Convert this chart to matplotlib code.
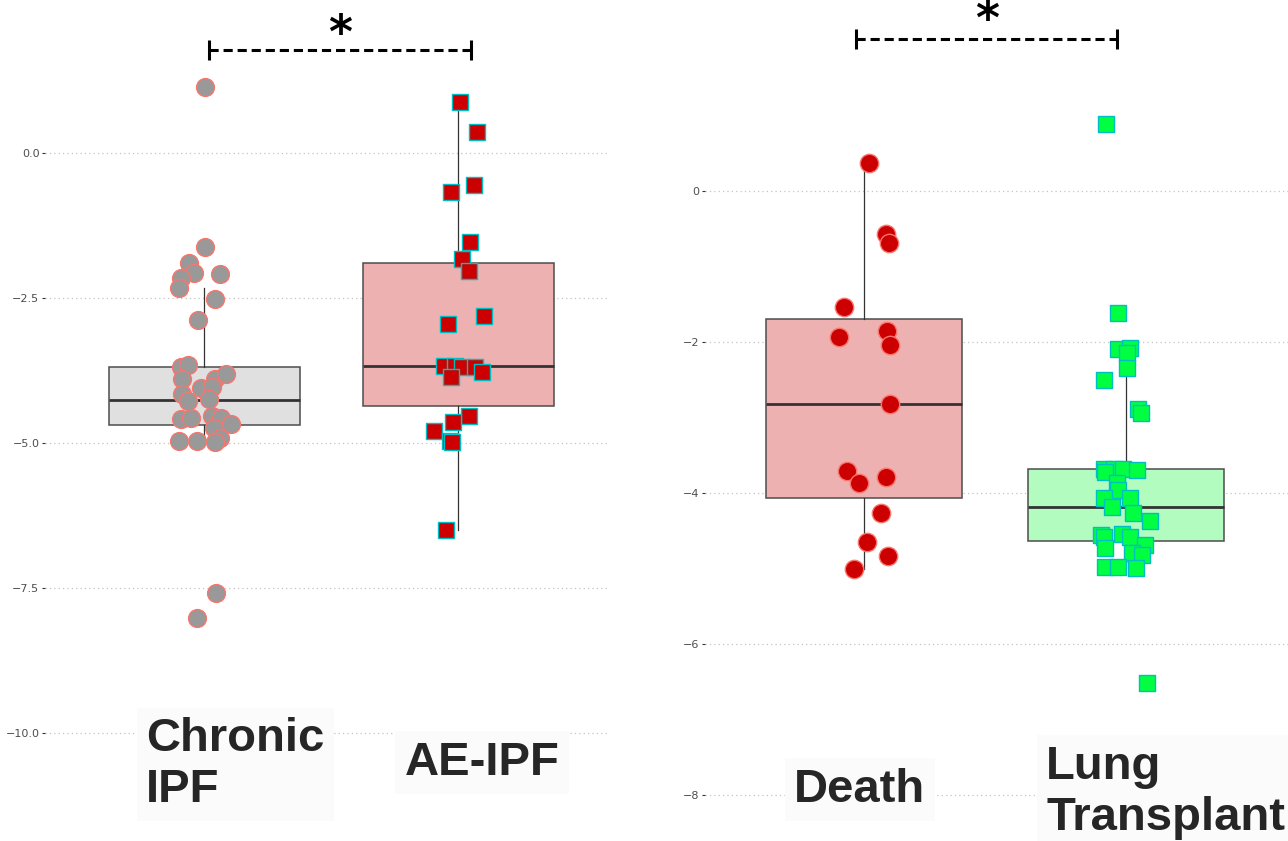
import matplotlib
matplotlib.use("Agg")
import matplotlib.pyplot as plt

# ---- data ----
# left panel: Chronic IPF vs AE-IPF
chronic_vals = [1.13, -1.62, -1.90, -2.07, -2.09, -2.15, -2.33, -2.51, -2.88,
                -3.69, -3.66, -3.90, -3.90, -3.81, -4.05, -4.03, -4.16, -4.28,
                -4.24, -4.59, -4.57, -4.53, -4.57, -4.67, -4.74, -4.92, -4.96,
                -4.96, -4.98, -7.58, -8.02]
chronic_jit = [0.004, 0.004, -0.059, -0.040, 0.063, -0.091, -0.099, 0.040, -0.024,
               -0.091, -0.063, -0.087, 0.040, 0.083, -0.012, 0.028, -0.087, -0.063,
               0.016, -0.091, -0.055, 0.028, 0.067, 0.103, 0.036, 0.063, -0.099,
               -0.028, 0.040, 0.047, -0.028]
ae_vals = [0.88, 0.37, -0.68, -0.56, -1.53, -1.83, -2.03, -2.94, -2.81, -3.67,
           -3.67, -3.69, -3.69, -3.78, -3.86, -4.53, -4.64, -4.79, -4.96, -4.98, -6.50]
ae_jit = [0.008, 0.075, -0.028, 0.063, 0.047, 0.016, 0.040, -0.043, 0.099, -0.055,
          -0.012, 0.016, 0.067, 0.091, -0.028, 0.043, -0.020, -0.095, -0.032, -0.024, -0.047]

# right panel: Death vs Lung Transplant
death_vals = [0.37, -0.57, -0.69, -1.53, -1.93, -1.85, -2.04, -2.82, -3.71, -3.87,
              -3.79, -4.27, -4.65, -4.83, -5.01]
death_jit = [0.019, 0.084, 0.095, -0.076, -0.095, 0.088, 0.099, 0.099, -0.065, -0.019,
             0.084, 0.065, 0.011, 0.092, -0.038]
lt_vals = [0.89, -1.62, -2.09, -2.08, -2.15, -2.35, -2.50, -2.89, -2.94, -3.68,
           -3.68, -3.68, -3.70, -3.72, -3.87, -3.96, -4.07, -4.07, -4.19, -4.26,
           -4.37, -4.56, -4.58, -4.54, -4.58, -4.69, -4.73, -4.79, -4.82, -4.98,
           -4.98, -4.99, -6.51]
lt_jit = [-0.076, -0.031, -0.031, 0.015, 0.004, 0.004, -0.084, 0.046, 0.057, -0.084,
          -0.046, -0.011, 0.042, -0.080, -0.034, -0.031, -0.084, 0.015, -0.053, 0.027,
          0.092, -0.095, -0.084, -0.015, 0.015, 0.073, -0.080, 0.023, 0.061, -0.080,
          -0.031, 0.038, 0.080]

# box summaries (q1, median, q3, lower whisker, upper whisker)
left_q1 = [-4.69, -4.36]
left_med = [-4.26, -3.67]
left_q3 = [-3.69, -1.90]
left_lo = [-4.98, -6.50]
left_hi = [-2.33, 0.88]
right_q1 = [-4.07, -4.64]
right_med = [-2.82, -4.19]
right_q3 = [-1.70, -3.68]
right_lo = [-5.01, -4.99]
right_hi = [0.37, -2.35]

left_labels = ["Chronic\nIPF", "AE-IPF"]
right_labels = ["Death", "Lung\nTransplant"]
left_ticks = [0.0, -2.5, -5.0, -7.5, -10.0]
right_ticks = [0, -2, -4, -6, -8]

W, H = 1288, 841
fig = plt.figure(figsize=(W / 100, H / 100), dpi=100)
fig.patch.set_facecolor("white")


def make_axes(x0, x1, xlim, ylim):
    ax = fig.add_axes([x0 / W, 0, (x1 - x0) / W, 1])
    ax.set_xlim(*xlim)
    ax.set_ylim(*ylim)
    for s in ax.spines.values():
        s.set_visible(False)
    ax.yaxis.grid(True, linestyle=(0, (1, 2.5)), color="#c4c4c4", lw=0.9)
    ax.set_axisbelow(True)
    ax.tick_params(axis="y", length=2.5, width=0.8, color="#333333",
                   labelsize=8, labelcolor="#4d4d4d", pad=1.5)
    return ax


def draw_boxes(ax, q1, med, q3, lo, hi, faces):
    stats = [dict(q1=q1[i], med=med[i], q3=q3[i], whislo=lo[i], whishi=hi[i], fliers=[])
             for i in range(2)]
    bp = ax.bxp(stats, positions=[1, 2], widths=0.75, patch_artist=True,
                showcaps=False, showfliers=False, manage_ticks=False,
                boxprops=dict(edgecolor="#4d4d4d", linewidth=1.1),
                medianprops=dict(color="#333333", linewidth=2.0),
                whiskerprops=dict(color="#333333", linewidth=0.9))
    for patch, fc in zip(bp["boxes"], faces):
        patch.set_facecolor(fc)
    ax.set_xticks([])


def draw_bracket(ax, x0, x1, y, dy, star_y):
    ax.plot([x0, x1], [y, y], color="black", lw=2.2, linestyle=(0, (3, 1.6)),
            clip_on=False, zorder=5)
    for xx in (x0, x1):
        ax.plot([xx, xx], [y - dy, y + dy], color="black", lw=2.2, clip_on=False,
                solid_capstyle="butt", zorder=5)
    ax.text((x0 + x1) / 2, star_y, "*", fontsize=33, fontweight="bold",
            family="DejaVu Sans", ha="center", va="center", color="black")


label_kw = dict(fontsize=34, fontweight="bold", family="Liberation Sans",
                color="#262626", ha="left", va="baseline",
                bbox=dict(boxstyle="square,pad=0.2", fc="#fbfbfb", ec="none"))

# ---- left panel ----
ax1 = make_axes(45, 608, (0.372, 2.589), ((153 - 841) / 58, 153 / 58))
draw_boxes(ax1, left_q1, left_med, left_q3, left_lo, left_hi, ["#e0e0e0", "#edb1b1"])
ax1.set_yticks(left_ticks)
ax1.set_yticklabels(["0.0", "\u22122.5", "\u22125.0", "\u22127.5", "\u221210.0"])
ax1.scatter([1 + j for j in chronic_jit], chronic_vals, s=165, marker="o",
            color="#999999", edgecolors="#f8766d", linewidths=1.0, zorder=3)
ax1.scatter([2 + j for j in ae_jit], ae_vals, s=130, marker="s",
            color="#cc0000", edgecolors="#00bfc4", linewidths=1.0, zorder=3)
draw_bracket(ax1, 1.016, 2.05, 1.78, 0.17, 2.02)
ax1.text(0.771, -11.19, left_labels[0], **label_kw)
ax1.text(1.787, -10.72, left_labels[1], **label_kw)

# ---- right panel ----
ax2 = make_axes(705, 1288, (0.393, 2.618), ((191 - 841) / 75.5, 191 / 75.5))
draw_boxes(ax2, right_q1, right_med, right_q3, right_lo, right_hi, ["#edb1b1", "#b2fcc0"])
ax2.set_yticks(right_ticks)
ax2.set_yticklabels(["0", "\u22122", "\u22124", "\u22126", "\u22128"])
ax2.scatter([1 + j for j in death_jit], death_vals, s=175, marker="o",
            color="#cc0000", edgecolors="#f8766d", linewidths=1.0, zorder=3)
ax2.scatter([2 + j for j in lt_jit], lt_vals, s=130, marker="s",
            color="#00ff40", edgecolors="#00bfc4", linewidths=1.0, zorder=3)
draw_bracket(ax2, 0.970, 1.966, 2.01, 0.13, 2.24)
ax2.text(0.733, -8.09, right_labels[0], **label_kw)
ax2.text(1.695, -8.46, right_labels[1], **label_kw)

fig.savefig("out.png", dpi=100, facecolor="white")
